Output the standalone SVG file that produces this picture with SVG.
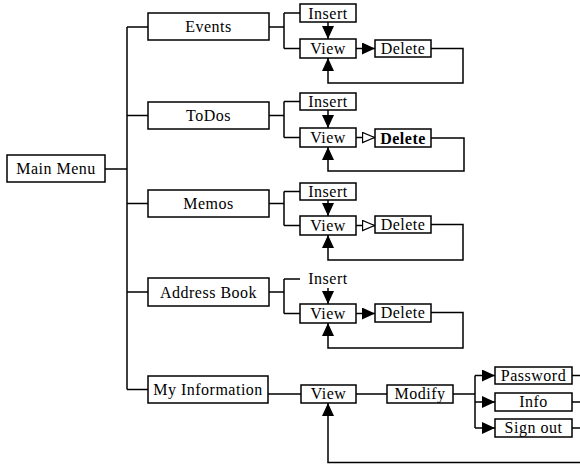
<svg xmlns="http://www.w3.org/2000/svg" width="580" height="464" viewBox="0 0 580 464">
<defs>
<style>
.b{fill:#fff;stroke:#000;stroke-width:1.5}
.t{font-family:"Liberation Serif",serif;font-size:16px;letter-spacing:0.5px;text-anchor:middle;fill:#000}
.c{fill:none;stroke:#000;stroke-width:1.5}
</style>
<marker id="af" viewBox="0 0 13 12" refX="13" refY="6" markerWidth="13" markerHeight="12" markerUnits="userSpaceOnUse" orient="auto"><path d="M0,0 L13,6 L0,12 z" fill="#000"/></marker>
<marker id="ah" viewBox="0 0 14 12" refX="13.5" refY="6" markerWidth="14" markerHeight="12" markerUnits="userSpaceOnUse" orient="auto"><path d="M1,1 L13,6 L1,11 z" fill="#fff" stroke="#000" stroke-width="1.3"/></marker>
</defs>
<g id="connectors" class="c">
<path d="M105,169 H127 M127,27 V389.5 M127,27 H148 M127,115.5 H148 M127,203.5 H148 M127,292 H148 M127,389.5 H148"/>
<path d="M269,27 H284 M284,13 V48.5 M284,13 H300 M284,48.5 H300"/>
<path d="M328,22 V39" marker-end="url(#af)"/>
<path d="M356,48.5 H375" marker-end="url(#af)"/>
<path d="M431,48.5 H463 V83 H328 V58" marker-end="url(#af)"/>
<path d="M269,115.5 H284 M284,101.5 V137.5 M284,101.5 H300 M284,137.5 H300"/>
<path d="M328,110 V128" marker-end="url(#af)"/>
<path d="M356,137.5 H375" marker-end="url(#ah)"/>
<path d="M431,138 H464 V171 H328 V147" marker-end="url(#af)"/>
<path d="M269,203.5 H284 M284,191.5 V225.5 M284,191.5 H300 M284,225.5 H300"/>
<path d="M328,200 V216" marker-end="url(#af)"/>
<path d="M356,225.5 H375" marker-end="url(#ah)"/>
<path d="M431,224.5 H463 V260 H328 V235" marker-end="url(#af)"/>
<path d="M269,292 H284 M284,279 V313.5 M284,279 H300 M284,313.5 H300"/>
<path d="M328,288 V304" marker-end="url(#af)"/>
<path d="M356,313.5 H375" marker-end="url(#af)"/>
<path d="M431,312.5 H463 V348 H328 V323" marker-end="url(#af)"/>
<path d="M268,394 H301 M356,394 H387 M453,394 H475 M475,375.5 V428"/>
<path d="M475,375.5 H495" marker-end="url(#af)"/>
<path d="M475,402 H495" marker-end="url(#af)"/>
<path d="M475,428 H495" marker-end="url(#af)"/>
<path d="M572,375.5 H580 M572,402 H580 M572,428 H580"/>
<path d="M580,462.5 H328 V403" marker-end="url(#af)"/>
</g>
<g id="main-menu"><rect class="b" x="7" y="155" width="98" height="27"/><text class="t" x="56" y="174">Main Menu</text></g>
<g id="events"><rect class="b" x="148" y="13" width="121" height="27"/><text class="t" x="208.5" y="32">Events</text></g>
<g id="events-insert"><rect class="b" x="300" y="4" width="56" height="18"/><text class="t" x="328" y="18.5">Insert</text></g>
<g id="events-view"><rect class="b" x="300" y="39" width="56" height="19"/><text class="t" x="328" y="54">View</text></g>
<g id="events-delete"><rect class="b" x="375" y="40" width="56" height="17"/><text class="t" x="403" y="54">Delete</text></g>
<g id="todos"><rect class="b" x="148" y="102" width="121" height="27"/><text class="t" x="208.5" y="121">ToDos</text></g>
<g id="todos-insert"><rect class="b" x="300" y="93" width="56" height="17"/><text class="t" x="328" y="107">Insert</text></g>
<g id="todos-view"><rect class="b" x="300" y="128" width="56" height="19"/><text class="t" x="328" y="143">View</text></g>
<g id="todos-delete"><rect class="b" x="375" y="129" width="56" height="18"/><text class="t" x="403" y="143.5" font-weight="bold">Delete</text></g>
<g id="memos"><rect class="b" x="148" y="190" width="121" height="27"/><text class="t" x="208.5" y="209">Memos</text></g>
<g id="memos-insert"><rect class="b" x="300" y="183" width="56" height="17"/><text class="t" x="328" y="197">Insert</text></g>
<g id="memos-view"><rect class="b" x="300" y="216" width="56" height="19"/><text class="t" x="328" y="231">View</text></g>
<g id="memos-delete"><rect class="b" x="375" y="216" width="56" height="17"/><text class="t" x="403" y="230">Delete</text></g>
<g id="address-book"><rect class="b" x="148" y="278" width="121" height="28"/><text class="t" x="208.5" y="297.5">Address Book</text></g>
<g id="address-insert"><text class="t" x="328" y="284">Insert</text></g>
<g id="address-view"><rect class="b" x="300" y="304" width="56" height="19"/><text class="t" x="328" y="319">View</text></g>
<g id="address-delete"><rect class="b" x="375" y="304" width="56" height="18"/><text class="t" x="403" y="318">Delete</text></g>
<g id="my-information"><rect class="b" x="148" y="376" width="120" height="27"/><text class="t" x="208" y="395">My Information</text></g>
<g id="info-view"><rect class="b" x="301" y="385" width="55" height="18"/><text class="t" x="328.5" y="399">View</text></g>
<g id="modify"><rect class="b" x="387" y="385" width="66" height="18"/><text class="t" x="420" y="399">Modify</text></g>
<g id="password"><rect class="b" x="495" y="367" width="77" height="17"/><text class="t" x="533.5" y="381">Password</text></g>
<g id="info"><rect class="b" x="495" y="393" width="77" height="18"/><text class="t" x="533.5" y="407">Info</text></g>
<g id="sign-out"><rect class="b" x="495" y="419" width="77" height="18"/><text class="t" x="533.5" y="433">Sign out</text></g>
</svg>
